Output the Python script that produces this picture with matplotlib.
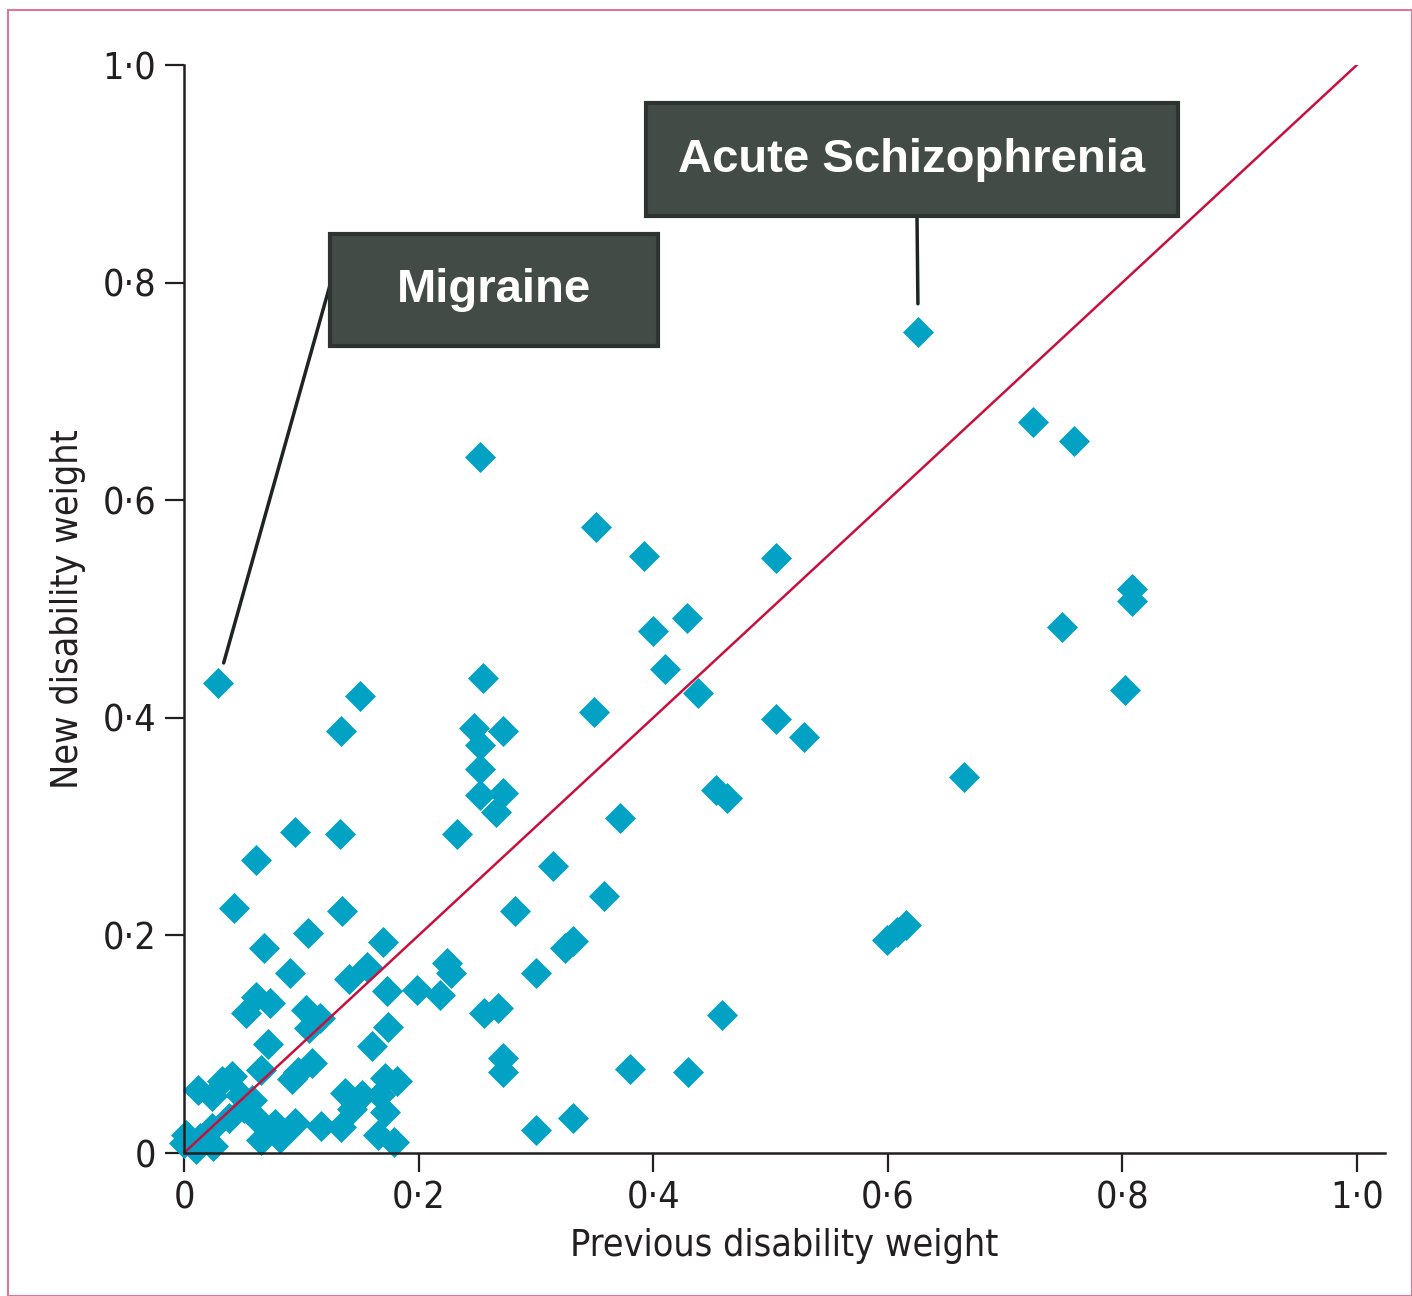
import matplotlib
matplotlib.use("Agg")
import matplotlib.pyplot as plt
from matplotlib.patches import Rectangle, ConnectionPatch

# previous vs new disability weight
prev_dw = [0.029, 0.626, 0.724, 0.759, 0.252, 0.351, 0.392, 0.505, 0.808, 0.808,
           0.749, 0.400, 0.429, 0.410, 0.255, 0.150, 0.438, 0.802, 0.350, 0.505,
           0.529, 0.134, 0.247, 0.272, 0.252, 0.252, 0.665, 0.454, 0.463, 0.252,
           0.272, 0.266, 0.372, 0.095, 0.133, 0.233, 0.061, 0.315, 0.358, 0.043,
           0.135, 0.282, 0.599, 0.608, 0.616, 0.106, 0.332, 0.325, 0.068, 0.170,
           0.090, 0.156, 0.141, 0.300, 0.224, 0.228, 0.218, 0.199, 0.173, 0.061,
           0.073, 0.053, 0.104, 0.116, 0.256, 0.268, 0.459, 0.174, 0.107, 0.072,
           0.160, 0.272, 0.272, 0.380, 0.430, 0.109, 0.097, 0.066, 0.041, 0.032,
           0.012, 0.024, 0.182, 0.171, 0.167, 0.137, 0.152, 0.051, 0.063, 0.078,
           0.095, 0.117, 0.134, 0.143, 0.171, 0.300, 0.332, 0.002, 0.000, 0.014,
           0.024, 0.066, 0.082, 0.165, 0.179, 0.038, 0.048, 0.010, 0.025, 0.058,
           0.092]
new_dw = [0.432, 0.755, 0.672, 0.654, 0.640, 0.575, 0.549, 0.547, 0.518, 0.507,
          0.483, 0.480, 0.492, 0.445, 0.437, 0.420, 0.423, 0.426, 0.405, 0.399,
          0.382, 0.388, 0.391, 0.388, 0.375, 0.353, 0.346, 0.334, 0.326, 0.329,
          0.331, 0.313, 0.308, 0.295, 0.293, 0.293, 0.269, 0.264, 0.236, 0.225,
          0.222, 0.222, 0.196, 0.203, 0.210, 0.202, 0.195, 0.188, 0.188, 0.194,
          0.165, 0.171, 0.160, 0.165, 0.175, 0.165, 0.145, 0.150, 0.149, 0.143,
          0.138, 0.129, 0.131, 0.124, 0.129, 0.133, 0.127, 0.116, 0.115, 0.100,
          0.098, 0.087, 0.074, 0.077, 0.074, 0.083, 0.074, 0.076, 0.071, 0.066,
          0.058, 0.052, 0.066, 0.069, 0.053, 0.055, 0.053, 0.041, 0.030, 0.027,
          0.028, 0.025, 0.024, 0.040, 0.038, 0.021, 0.032, 0.017, 0.009, 0.014,
          0.023, 0.012, 0.014, 0.017, 0.010, 0.032, 0.053, 0.004, 0.006, 0.049,
          0.068]

ticks = [0, 0.2, 0.4, 0.6, 0.8, 1.0]
tick_labels = ["0", "0·2", "0·4", "0·6", "0·8", "1·0"]

# labelled points: (name, x, y)
callouts = [("Migraine", 0.029, 0.432), ("Acute Schizophrenia", 0.626, 0.755)]

W, H = 1412, 1296
fig = plt.figure(figsize=(W / 100, H / 100), dpi=100)
ax = fig.add_axes([184 / W, 143 / H, (1385 - 184) / W, (1231 - 143) / H])

label_font = dict(family="DejaVu Sans", stretch="condensed", fontsize=27, color="#231f20")
ink = "#231f20"

ax.scatter(prev_dw, new_dw, marker="D", s=250, color="#02a2c5",
           linewidths=0, clip_on=False, zorder=2)
ax.plot([0, 1], [0, 1], color="#c8103e", lw=1.8, zorder=3)

ax.set_xlim(0, 1.024)
ax.set_ylim(0, 1.0)
ax.set_xticks(ticks)
ax.set_xticklabels(tick_labels, **label_font)
ax.set_yticks(ticks)
ax.set_yticklabels(tick_labels, **label_font)
ax.tick_params(length=14, width=1.6, color=ink, pad=6)
for side in ["top", "right"]:
    ax.spines[side].set_visible(False)
for side in ["left", "bottom"]:
    ax.spines[side].set_linewidth(1.8)
    ax.spines[side].set_color(ink)
    ax.spines[side].set_zorder(4)

ax.set_xlabel("Previous disability weight", labelpad=8, **label_font)
ax.set_ylabel("New disability weight", labelpad=12, **label_font)

# outer pink frame
fig.patches.append(Rectangle((8 / W, 0), 1 - 8 / W, 1 - 10 / H, transform=fig.transFigure,
                             fill=False, edgecolor="#d8789a", lw=1.5))

# callout boxes, in pixel positions (left, top, right, bottom) and line start
boxes = [(330, 234, 658, 346, (330, 285), 15),
         (646, 103, 1178, 216, (917, 216), 20)]
for (name, px, py), (l, t, r, b, start, shrink) in zip(callouts, boxes):
    fig.patches.append(Rectangle((l / W, 1 - b / H), (r - l) / W, (b - t) / H,
                                 transform=fig.transFigure, facecolor="#424b45",
                                 edgecolor="#2d342f", lw=3, zorder=5))
    fig.text((l + r) / 2 / W, 1 - (t + b) / 2 / H, name, color="white",
             fontsize=34, fontweight="bold", family="Liberation Sans",
             ha="center", va="center", zorder=6)
    con = ConnectionPatch(xyA=(start[0] / W, 1 - start[1] / H), coordsA=fig.transFigure,
                          xyB=(px, py), coordsB=ax.transData, color="#1e2420",
                          lw=2.5, shrinkB=shrink)
    fig.add_artist(con)

fig.savefig("out.png", dpi=100)
